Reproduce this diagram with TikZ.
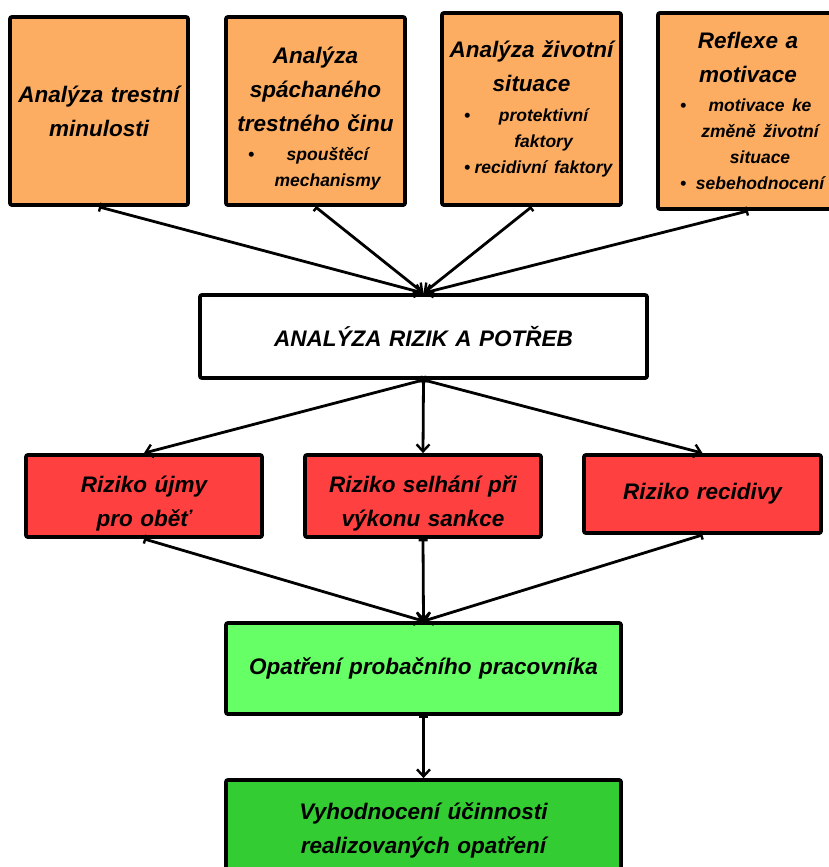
\documentclass[tikz,border=0pt]{standalone}
\usepackage{fontspec}
\setmainfont{Liberation Sans}
\usetikzlibrary{arrows.meta}
\definecolor{orangebox}{RGB}{253,173,97}
\definecolor{redbox}{RGB}{255,64,64}
\definecolor{lgreen}{RGB}{102,255,102}
\definecolor{dgreen}{RGB}{51,204,51}
\newcommand{\tf}{\fontsize{22.5}{34}\selectfont\bfseries\itshape}
\newcommand{\itf}{\fontsize{17.5}{26}\selectfont\bfseries\itshape}
\newcommand{\bl}[1]{\par\hbox to\linewidth{\hskip18pt\textbullet\hfill #1\hfill}}
\newcommand{\nb}[1]{\par\hbox to\linewidth{\hskip18pt\phantom{\textbullet}\hfill #1\hfill}}
\newcommand{\up}{\rule{0pt}{31pt}}
\tikzset{
  box/.style={draw=black, line width=3.8pt, rounded corners=2pt, inner xsep=4pt, inner ysep=0pt, align=center, font=\tf},
  conn/.style={line width=2.8pt, {Bar[width=9pt,line width=2.4pt]}-{Straight Barb[length=7pt,width=13pt,line width=2.4pt]}}
}
\begin{document}
\begin{tikzpicture}[x=1pt,y=-1pt]
\useasboundingbox (0,0) rectangle (828,867);
% top row
\node[box, fill=orangebox, text width=170pt, minimum height=188pt] (t1) at (99,111)
  {Analýza trestní\\minulosti};
\node[box, fill=orangebox, text width=171pt, minimum height=188pt] (t2) at (315.5,111)
  {{\tf\up Analýza\\spáchaného\\trestného činu\par}\vspace{3pt}{\itf\bl{spouštěcí}\nb{mechanismy}\par}};
\node[box, fill=orangebox, text width=171pt, minimum height=192pt] (t3) at (531.5,109)
  {{\tf Analýza životní\\situace\par}\vspace{4pt}{\itf\bl{protektivní}\nb{faktory}\bl{recidivní faktory}\par}};
\node[box, fill=orangebox, text width=172pt, minimum height=196pt] (t4) at (748,111)
  {{\tf Reflexe a\\motivace\par}\vspace{3pt}{\itf\bl{motivace ke}\nb{změně životní}\nb{situace}\bl{sebehodnocení}\par}};
% analysis
\node[box, fill=white, text width=439pt, minimum height=83pt] (an) at (423.5,336.5)
  {ANALÝZA RIZIK A POTŘEB};
% risks
\node[box, fill=redbox, text width=228pt, minimum height=82pt] (r1) at (144,496)
  {\up Riziko újmy\\pro oběť};
\node[box, fill=redbox, text width=228pt, minimum height=82pt] (r2) at (423,496)
  {\up Riziko selhání při\\výkonu sankce};
\node[box, fill=redbox, text width=229pt, minimum height=78pt] (r3) at (702.5,494)
  {Riziko recidivy};
% measures
\node[box, fill=lgreen, text width=387pt, minimum height=91pt] (g) at (423.5,668.5)
  {Opatření probačního pracovníka};
\node[box, fill=dgreen, text width=387pt, minimum height=100pt] (d) at (423.5,830)
  {Vyhodnocení účinnosti\\realizovaných opatření};
% connectors
\draw[conn] (t1.south) -- (an.north);
\draw[conn] (t2.south) -- (an.north);
\draw[conn] (t3.south) -- (an.north);
\draw[conn] (t4.south) -- (an.north);
\draw[conn] (an.south) -- (r1.north);
\draw[conn] (an.south) -- (r2.north);
\draw[conn] (an.south) -- (r3.north);
\draw[conn] (r1.south) -- (g.north);
\draw[conn] (r2.south) -- (g.north);
\draw[conn] (r3.south) -- (g.north);
\draw[conn] (g.south) -- (d.north);
\end{tikzpicture}
\end{document}
